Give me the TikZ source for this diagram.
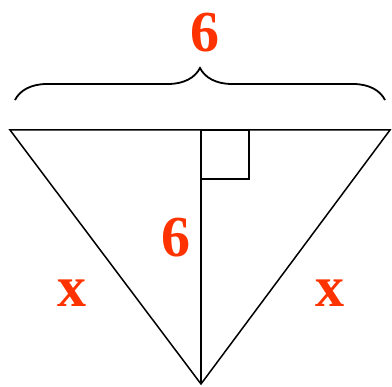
\documentclass[tikz,border=0pt]{standalone}
\usepackage{fontspec}
\setmainfont{Liberation Serif}
\usepackage{xcolor}
\usetikzlibrary{decorations.pathreplacing, calc}
\definecolor{labelred}{HTML}{FF3300}

\begin{document}
\begin{tikzpicture}[x=1pt, y=-1pt,
    side/.style={line width=1.5pt},
    lbl/.style={text=labelred, font=\fontsize{58}{60}\selectfont\bfseries, inner sep=0pt}]
    \useasboundingbox (0,0) rectangle (392,387);
    % corners of the triangle
    \coordinate (tl) at (10,130);
    \coordinate (tr) at (390,130);
    \coordinate (ap) at (201,384);
    \coordinate (ft) at (201,130);
    \draw[side] (tl) -- (tr) -- (ap) -- cycle;
    \draw[line width=2.5pt] (ft) -- (ap);
    \draw[line width=1.8pt] (ft) rectangle (249,179);
    % brace over the top side
    \coordinate (bl) at (15,100);
    \coordinate (br) at (385,100);
    \draw[line width=1.8pt, decorate, decoration={brace, amplitude=32pt}] (bl) -- (br);
    \node[lbl] (top) at (205,33) {6};
    \node[lbl] (mid) at (176,238) {6};
    \node[lbl] (xl) at (72,293) {x};
    \node[lbl] (xr) at (330,293) {x};
\end{tikzpicture}
\end{document}
